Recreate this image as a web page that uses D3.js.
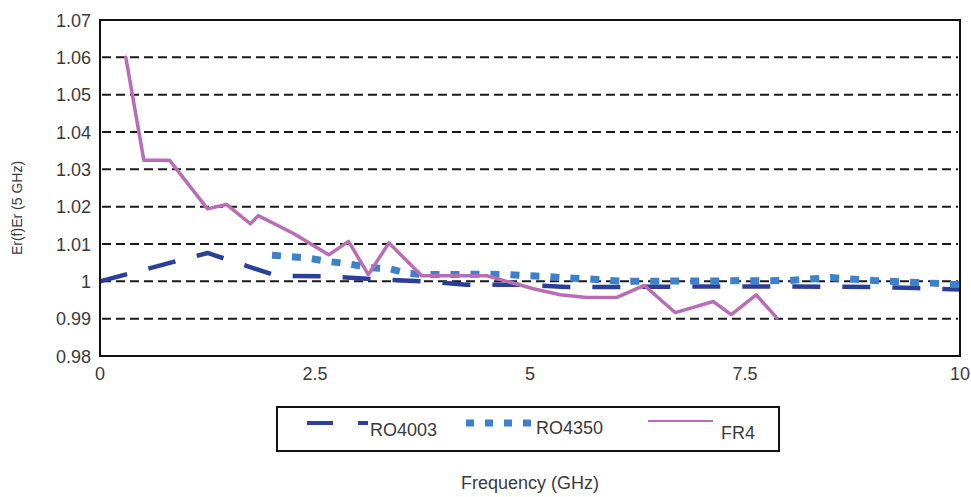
<!DOCTYPE html>
<html>
<head>
<meta charset="utf-8">
<title>Er(f)/Er vs Frequency</title>
<script src="https://cdn.jsdelivr.net/npm/d3@7"></script>
<style>
	body { margin: 0; background: #fff; }
	text { font-family: "Liberation Sans", Arial, sans-serif; fill: #3a3a3a; }
</style>
</head>
<body>
<div id="chartContainer"></div>
<script type="text/javascript">
	// tick labels
	var xTicks = [0, 2.5, 5, 7.5, 10];
	var yTicks = [0.98, 0.99, 1, 1.01, 1.02, 1.03, 1.04, 1.05, 1.06, 1.07];
	var gridTicks = [0.99, 1, 1.01, 1.02, 1.03, 1.04, 1.05, 1.06];

	// RO4003 (long dashes)
	var ro4003Freq = [0, 1.25, 2.05, 2.7, 3.15, 3.75, 4.26, 4.84, 5.43, 6.0, 7.0, 8.0, 9.0, 9.5, 10];
	var ro4003Val  = [1.000, 1.0076, 1.0015, 1.0013, 1.0006, 1.0000, 0.9991, 0.9991, 0.9985, 0.9985, 0.9986, 0.9986, 0.9985, 0.9982, 0.9978];

	// RO4350 (square dots)
	var ro4350Freq = [2.0, 2.4, 2.66, 2.89, 3.12, 3.36, 3.59, 3.8, 4.5, 4.73, 4.97, 5.2, 5.43, 5.66, 5.89, 6.1, 7.0, 8.0, 8.5, 9.0, 9.5, 10];
	var ro4350Val  = [1.0070, 1.0063, 1.0053, 1.0047, 1.0037, 1.0034, 1.0021, 1.0018, 1.0019, 1.0018, 1.0015, 1.0013, 1.0009, 1.0007, 1.0003, 1.0000, 1.0001, 1.0002, 1.0010, 1.0002, 0.9997, 0.9991];

	// FR4 (solid)
	var fr4Freq = [0.30, 0.51, 0.81, 1.25, 1.47, 1.75, 1.84, 2.25, 2.66, 2.89, 3.12, 3.36, 3.74, 4.50, 4.73, 5.04, 5.35, 5.66, 6.01, 6.33, 6.69, 7.13, 7.34, 7.63, 7.87];
	var fr4Val  = [1.060, 1.0324, 1.0324, 1.0194, 1.0206, 1.0154, 1.0176, 1.0128, 1.0071, 1.0107, 1.0018, 1.0103, 1.0015, 1.0015, 1.0000, 0.9980, 0.9964, 0.9957, 0.9957, 0.9989, 0.9916, 0.9946, 0.9911, 0.9964, 0.9902];

	var seriesNames = ["RO4003", "RO4350", "FR4"];

	var W = 971, H = 497;
	var svg = d3.select("#chartContainer").append("svg")
		.attr("width", W).attr("height", H);

	var x = d3.scaleLinear().domain([0, 10]).range([100, 960]);
	var y = d3.scaleLinear().domain([0.98, 1.07]).range([356, 20]);

	// dashed gridlines
	svg.selectAll("line.grid").data(gridTicks).enter().append("line")
		.attr("class", "grid")
		.attr("x1", x(0) + 2).attr("x2", x(10) - 2)
		.attr("y1", function (d) { return y(d); })
		.attr("y2", function (d) { return y(d); })
		.attr("stroke", "#1a1a1a").attr("stroke-width", 2)
		.attr("stroke-dasharray", "9,5");

	// y tick labels
	svg.selectAll("text.ytick").data(yTicks).enter().append("text")
		.attr("class", "ytick")
		.attr("x", 91)
		.attr("y", function (d) { return y(d) + 6.5; })
		.attr("text-anchor", "end")
		.style("font-size", "18px")
		.text(function (d) { return d === 1 ? "1" : d3.format(".2f")(d); });

	// x tick labels
	svg.selectAll("text.xtick").data(xTicks).enter().append("text")
		.attr("class", "xtick")
		.attr("x", function (d) { return x(d); })
		.attr("y", 380)
		.attr("text-anchor", "middle")
		.style("font-size", "18px")
		.text(function (d) { return d; });

	// axis titles
	svg.append("text")
		.attr("transform", "translate(22,208) rotate(-90)")
		.attr("text-anchor", "middle")
		.style("font-size", "14px")
		.text("Er(f)Er (5 GHz)");

	svg.append("text")
		.attr("x", 530).attr("y", 489)
		.attr("text-anchor", "middle")
		.style("font-size", "18px")
		.text("Frequency (GHz)");

	function pairs(xs, ys) {
		return xs.map(function (v, i) { return [v, ys[i]]; });
	}
	var line = d3.line().x(function (d) { return x(d[0]); }).y(function (d) { return y(d[1]); });

	var styles = {
		"RO4003": { color: "#2c3f98", width: 4.5, dash: "28,22", cap: "butt" },
		"RO4350": { color: "#3d80cb", width: 7, dash: "9,11", cap: "butt" },
		"FR4":    { color: "#b96db6", width: 3.5, dash: null, cap: "round" }
	};
	var seriesData = {
		"RO4003": pairs(ro4003Freq, ro4003Val),
		"RO4350": pairs(ro4350Freq, ro4350Val),
		"FR4": pairs(fr4Freq, fr4Val)
	};

	seriesNames.forEach(function (name) {
		var st = styles[name];
		svg.append("path")
			.datum(seriesData[name])
			.attr("d", line)
			.attr("fill", "none")
			.attr("stroke", st.color)
			.attr("stroke-width", st.width)
			.attr("stroke-linejoin", "round")
			.attr("stroke-linecap", st.cap)
			.attr("stroke-dasharray", st.dash);
	});

	// plot frame
	svg.append("rect")
		.attr("x", x(0)).attr("y", y(1.07))
		.attr("width", x(10) - x(0)).attr("height", y(0.98) - y(1.07))
		.attr("fill", "none").attr("stroke", "#111").attr("stroke-width", 2);

	// legend
	var lg = svg.append("g");
	lg.append("rect")
		.attr("x", 277).attr("y", 407).attr("width", 502).attr("height", 44)
		.attr("fill", "#fff").attr("stroke", "#111").attr("stroke-width", 2);

	lg.append("line").attr("x1", 307).attr("x2", 368).attr("y1", 423).attr("y2", 423)
		.attr("stroke", styles["RO4003"].color).attr("stroke-width", 4)
		.attr("stroke-dasharray", "26,25");
	lg.append("line").attr("x1", 466).attr("x2", 531).attr("y1", 423).attr("y2", 423)
		.attr("stroke", styles["RO4350"].color).attr("stroke-width", 7)
		.attr("stroke-dasharray", "8,11");
	lg.append("line").attr("x1", 648).attr("x2", 713).attr("y1", 421).attr("y2", 421)
		.attr("stroke", styles["FR4"].color).attr("stroke-width", 2);

	lg.append("text").attr("x", 370).attr("y", 436).style("font-size", "18px").text("RO4003");
	lg.append("text").attr("x", 536).attr("y", 434).style("font-size", "18px").text("RO4350");
	lg.append("text").attr("x", 721).attr("y", 439).style("font-size", "18px").text("FR4");
</script>
</body>
</html>
